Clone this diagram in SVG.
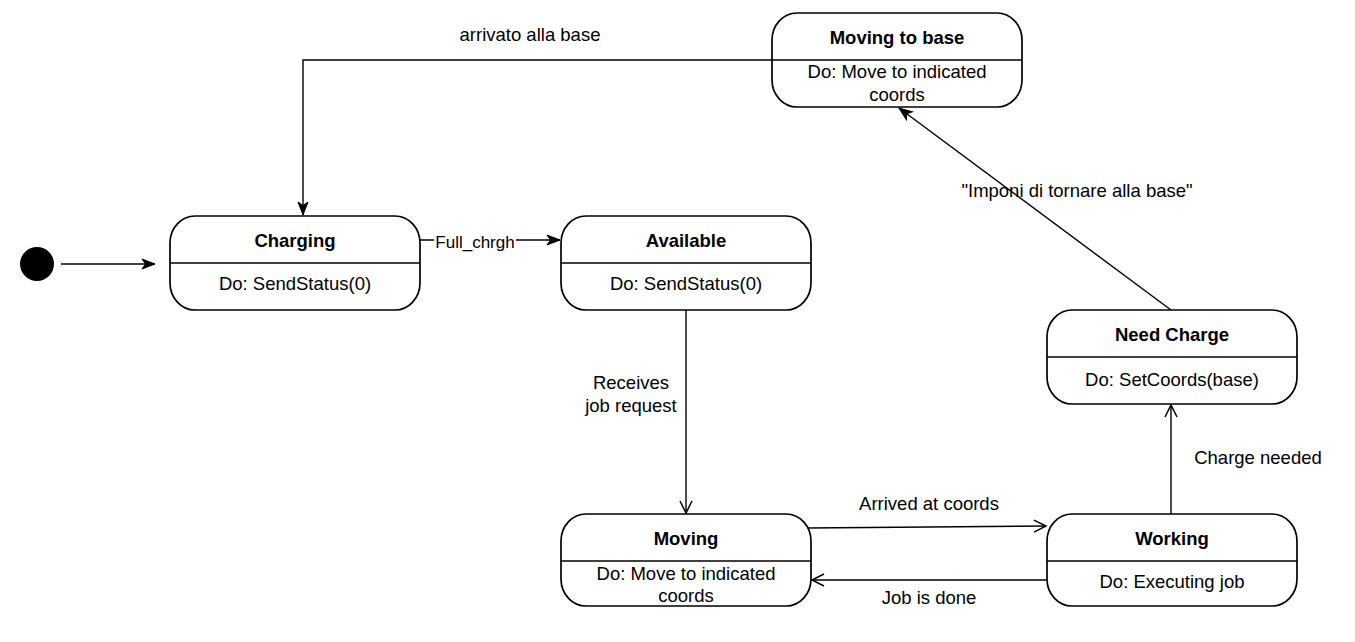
<svg xmlns="http://www.w3.org/2000/svg" width="1355" height="642" viewBox="0 0 1355 642">
<style>
.node rect{fill:#fff;stroke:#000;stroke-width:1.7}
.node line{stroke:#000;stroke-width:1.6}
.t{font-family:"Liberation Sans",Arial,sans-serif;font-size:18.5px;font-weight:bold;text-anchor:middle;fill:#000}
.b{font-family:"Liberation Sans",Arial,sans-serif;font-size:18.5px;text-anchor:middle;fill:#000}
.lbl{font-family:"Liberation Sans",Arial,sans-serif;font-size:18.5px;text-anchor:middle;fill:#000}
.lbls{font-family:"Liberation Sans",Arial,sans-serif;font-size:17px;text-anchor:middle;fill:#000}
.e{fill:none;stroke:#000;stroke-width:1.4}
</style>
<defs>
<marker id="fill" markerUnits="userSpaceOnUse" markerWidth="14" markerHeight="12" refX="13" refY="5" orient="auto" overflow="visible">
<path d="M0,0 L13,5 L0,10 L3.5,5 Z" fill="#000" stroke="#000" stroke-width="1"/>
</marker>
<marker id="open" markerUnits="userSpaceOnUse" markerWidth="14" markerHeight="14" refX="12" refY="6" orient="auto" overflow="visible">
<path d="M0,0 L12,6 L0,12" fill="none" stroke="#000" stroke-width="1.5"/>
</marker>
</defs>
<rect width="1355" height="642" fill="#fff"/>

<g id="connectors">
<line class="e" x1="61" y1="264" x2="155" y2="264" marker-end="url(#fill)"/>
<path class="e" d="M772,60 L303,60 L303,215" marker-end="url(#fill)"/>
<line class="e" x1="420" y1="240" x2="560" y2="240" marker-end="url(#fill)"/>
<rect x="434" y="231" width="82" height="20" fill="#fff"/>
<line class="e" x1="686" y1="310" x2="686" y2="513" marker-end="url(#open)"/>
<path class="e" d="M808,528 Q930,527 1046,526" marker-end="url(#open)"/>
<line class="e" x1="1047" y1="580" x2="812" y2="580" marker-end="url(#open)"/>
<line class="e" x1="1171" y1="514" x2="1171" y2="405" marker-end="url(#open)"/>
<line class="e" x1="1171" y1="310" x2="899" y2="108" marker-end="url(#fill)"/>
<text class="lbl" x="530" y="41">arrivato alla base</text>
<text class="lbls" x="475" y="248">Full_chrgh</text>
<text class="lbl" x="631" y="389">Receives</text>
<text class="lbl" x="631" y="412">job request</text>
<text class="lbl" x="929" y="510">Arrived at coords</text>
<text class="lbl" x="929" y="604">Job is done</text>
<text class="lbl" x="1258" y="464">Charge needed</text>
<text class="lbl" x="1077" y="197">"Imponi di tornare alla base"</text>
</g>

<g id="initial">
<circle cx="37" cy="264" r="17" fill="#000"/>
</g>

<g id="charging" class="node">
<rect x="170" y="216" width="250" height="94" rx="25" ry="27"/>
<line x1="170" y1="263" x2="420" y2="263"/>
<text class="t" x="295" y="247">Charging</text>
<text class="b" x="295" y="290">Do: SendStatus(0)</text>
</g>

<g id="available" class="node">
<rect x="561" y="216" width="250" height="94" rx="25" ry="27"/>
<line x1="561" y1="263" x2="811" y2="263"/>
<text class="t" x="686" y="247">Available</text>
<text class="b" x="686" y="290">Do: SendStatus(0)</text>
</g>

<g id="moving-to-base" class="node">
<rect x="772" y="13" width="250" height="94" rx="25" ry="27"/>
<line x1="772" y1="60" x2="1022" y2="60"/>
<text class="t" x="897" y="44">Moving to base</text>
<text class="b" x="897" y="78">Do: Move to indicated</text>
<text class="b" x="897" y="101">coords</text>
</g>

<g id="need-charge" class="node">
<rect x="1047" y="310" width="250" height="94" rx="25" ry="27"/>
<line x1="1047" y1="357" x2="1297" y2="357"/>
<text class="t" x="1172" y="341">Need Charge</text>
<text class="b" x="1172" y="386">Do: SetCoords(base)</text>
</g>

<g id="moving" class="node">
<rect x="561" y="514" width="250" height="92" rx="25" ry="27"/>
<line x1="561" y1="561" x2="811" y2="561"/>
<text class="t" x="686" y="545">Moving</text>
<text class="b" x="686" y="580">Do: Move to indicated</text>
<text class="b" x="686" y="602">coords</text>
</g>

<g id="working" class="node">
<rect x="1047" y="514" width="250" height="92" rx="25" ry="27"/>
<line x1="1047" y1="561" x2="1297" y2="561"/>
<text class="t" x="1172" y="545">Working</text>
<text class="b" x="1172" y="588">Do: Executing job</text>
</g>
</svg>
